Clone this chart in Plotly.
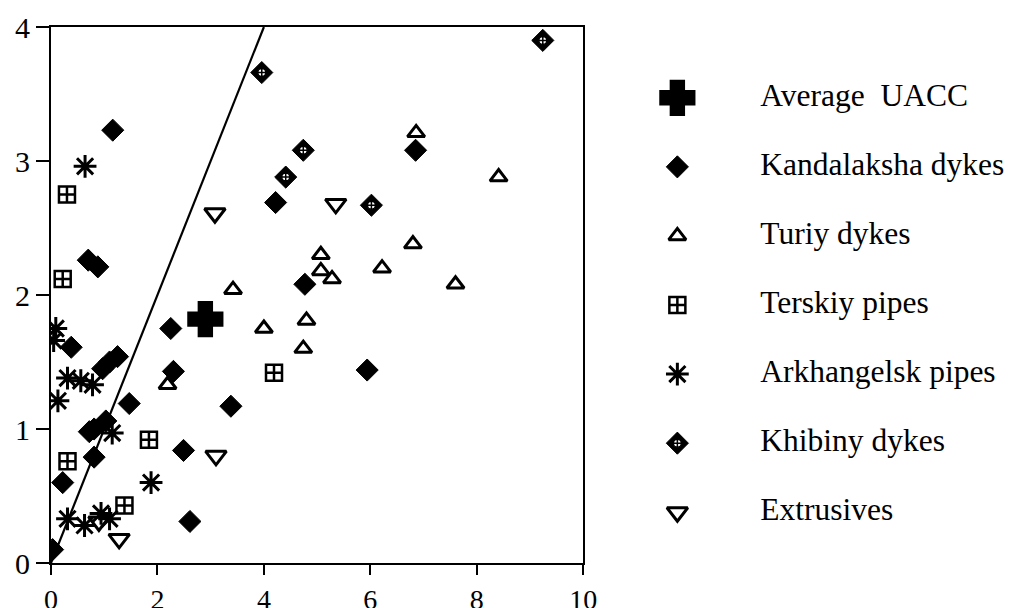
import plotly.graph_objects as go

# ---- data ----
uacc_x = [2.90]
uacc_y = [1.82]

kand_x = [1.16, 0.70, 0.88, 4.22, 4.77, 6.85, 5.94, 2.25, 2.30, 3.38, 2.49, 2.61,
          1.47, 1.25, 1.10, 0.97, 0.38, 0.81, 1.03, 0.72, 0.81, 0.22, 0.03]
kand_y = [3.23, 2.26, 2.21, 2.69, 2.08, 3.08, 1.44, 1.75, 1.43, 1.17, 0.84, 0.31,
          1.19, 1.54, 1.50, 1.45, 1.61, 1.00, 1.06, 0.98, 0.79, 0.60, 0.10]

turiy_x = [3.42, 2.19, 4.00, 4.80, 4.74, 6.86, 8.41, 5.07, 5.07, 5.28, 6.80, 6.22, 7.60]
turiy_y = [2.04, 1.33, 1.75, 1.81, 1.60, 3.21, 2.88, 2.30, 2.18, 2.12, 2.38, 2.20, 2.08]

tersk_x = [0.30, 0.22, 4.19, 1.84, 0.31, 1.38]
tersk_y = [2.75, 2.12, 1.42, 0.92, 0.76, 0.43]

arkh_x = [0.64, 0.09, 0.05, 0.31, 0.56, 0.78, 0.13, 1.15, 1.88, 0.31, 0.63, 0.94, 1.10]
arkh_y = [2.96, 1.75, 1.66, 1.38, 1.36, 1.33, 1.21, 0.97, 0.60, 0.33, 0.28, 0.37, 0.33]

khib_x = [3.96, 4.74, 4.41, 6.02, 9.24]
khib_y = [3.66, 3.08, 2.88, 2.67, 3.90]

extr_x = [3.08, 5.35, 3.10, 1.28, 0.90]
extr_y = [2.61, 2.68, 0.80, 0.18, 0.31]

line_x = [0, 4]
line_y = [0, 4]

x_ticks = [0, 2, 4, 6, 8, 10]
y_ticks = [0, 1, 2, 3, 4]

labels = ["Average  UACC", "Kandalaksha dykes", "Turiy dykes", "Terskiy pipes",
          "Arkhangelsk pipes", "Khibiny dykes", "Extrusives"]

FONT = "Liberation Serif"

# marker styles per series (also used for the hand-made legend)
styles = [
    dict(symbol="cross", size=26, color="black", line=dict(color="black", width=5)),
    dict(symbol="diamond", size=17, color="black", line=dict(color="black", width=1)),
    dict(symbol="triangle-up-open", size=15, color="black", line=dict(color="black", width=3)),
    dict(symbol="square-cross-open", size=16, color="black", line=dict(color="black", width=2.5)),
    dict(symbol="asterisk-open", size=19, color="black", line=dict(color="black", width=3)),
    dict(symbol="diamond", size=17, color="black", line=dict(color="black", width=1)),
    dict(symbol="triangle-down-open", size=18, color="black", line=dict(color="black", width=3)),
]
khib_inner = dict(symbol="circle-cross", size=8, color="white", line=dict(color="black", width=1.5))

series = [(uacc_x, uacc_y), (kand_x, kand_y), (turiy_x, turiy_y), (tersk_x, tersk_y),
          (arkh_x, arkh_y), (khib_x, khib_y), (extr_x, extr_y)]

fig = go.Figure()

fig.add_trace(go.Scatter(x=line_x, y=line_y, mode="lines",
                         line=dict(color="black", width=2.2), showlegend=False))

# draw order: open symbols over filled ones
order = [1, 5, 2, 3, 4, 6, 0]
for i in order:
    sx, sy = series[i]
    fig.add_trace(go.Scatter(x=sx, y=sy, mode="markers", marker=styles[i],
                             name=labels[i], showlegend=False))
    if i == 5:
        fig.add_trace(go.Scatter(x=sx, y=sy, mode="markers", marker=khib_inner,
                                 showlegend=False))

# legend drawn on its own axes so symbol sizes match the plot
rows = list(range(len(labels)))
for i in rows:
    fig.add_trace(go.Scatter(x=[0.219], y=[i], mode="markers", marker=styles[i],
                             xaxis="x2", yaxis="y2", showlegend=False))
    if i == 5:
        fig.add_trace(go.Scatter(x=[0.219], y=[i], mode="markers", marker=khib_inner,
                                 xaxis="x2", yaxis="y2", showlegend=False))
fig.add_trace(go.Scatter(x=[0.412] * len(labels), y=rows, mode="text", text=labels,
                         textposition="middle right",
                         textfont=dict(family=FONT, size=31.5, color="black"),
                         xaxis="x2", yaxis="y2", showlegend=False))

axis_common = dict(showline=True, linecolor="black", linewidth=2, mirror=True,
                   ticks="outside", tickwidth=2, tickcolor="black",
                   showgrid=False, zeroline=False)

# the page comes out about 1.4% smaller in the photo, so lay out on a 1027x616 canvas
W, H = 1027, 616
L, T, B = 51, 27, 53
plot_w = 540

fig.update_layout(
    width=W, height=H,
    margin=dict(l=L, r=0, t=T, b=B),
    paper_bgcolor="white", plot_bgcolor="white",
    font=dict(family=FONT, color="black"),
    showlegend=False,
    xaxis=dict(domain=[0, plot_w / (W - L)], range=[0, 10], tickvals=x_ticks, ticklen=10,
               tickfont=dict(family=FONT, size=28, color="black"), **axis_common),
    yaxis=dict(range=[0, 4], tickvals=y_ticks, ticklen=13,
               tickfont=dict(family=FONT, size=30, color="black"), **axis_common),
    xaxis2=dict(domain=[plot_w / (W - L), 1], range=[0, 1], visible=False, anchor="y2"),
    yaxis2=dict(domain=[0, 1], range=[6.735, -1.025], visible=False, anchor="x2"),
)

fig.write_html("out.html", config={"displayModeBar": False},
               post_script="document.documentElement.style.overflow='hidden';"
                           "document.body.style.margin='0';"
                           "document.body.style.overflow='hidden';")
